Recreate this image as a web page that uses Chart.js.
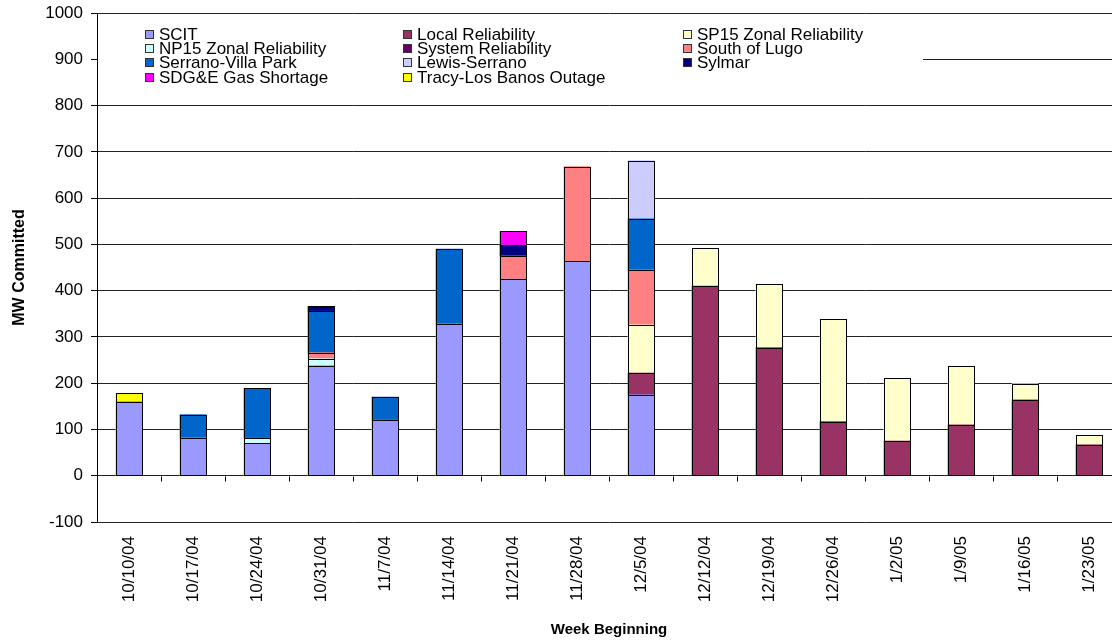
<!DOCTYPE html>
<html>
<head>
<meta charset="utf-8">
<script src="https://cdn.jsdelivr.net/npm/chart.js@4.4.1/dist/chart.umd.min.js"></script>
<style>
  html, body { margin: 0; padding: 0; background: #fff; overflow: hidden; }
  #wrap { width: 1127px; height: 641px; position: relative; }
</style>
</head>
<body>
<div id="wrap"><canvas id="chart"></canvas></div>
<script>
// Week-beginning categories
const weeks = ['10/10/04','10/17/04','10/24/04','10/31/04','11/7/04','11/14/04','11/21/04','11/28/04',
               '12/5/04','12/12/04','12/19/04','12/26/04','1/2/05','1/9/05','1/16/05','1/23/05'];

// MW committed per reason (null = nothing committed that week)
const scit        = [160, 82, 70, 238, 120, 328, 425, 463, 175, null, null, null, null, null, null, null];
const localRel    = [null, null, null, null, null, null, null, null, 47, 410, 277, 117, 75, 110, 164, 67];
const sp15Zonal   = [null, null, null, null, null, null, null, null, 104, 83, 138, 221, 136, 128, 35, 20];
const np15Zonal   = [null, null, 11, 15, null, null, null, null, null, null, null, null, null, null, null, null];
const systemRel   = [null, null, null, null, null, null, null, null, null, null, null, null, null, null, null, null];
const southLugo   = [null, null, null, 13, null, null, 50, 205, 119, null, null, null, null, null, null, null];
const serranoVP   = [null, 50, 108, 90, 50, 162, null, null, 110, null, null, null, null, null, null, null];
const lewisSerr   = [null, null, null, null, null, null, null, null, 126, null, null, null, null, null, null, null];
const sylmar      = [null, null, null, 10, null, null, 23, null, null, null, null, null, null, null, null, null];
const sdgeGas     = [null, null, null, null, null, null, 30, null, null, null, null, null, null, null, null, null];
const tracyLB     = [18, null, null, null, null, null, null, null, null, null, null, null, null, null, null, null];

// Y axis range
const yMin = -100, yMax = 1000, yStep = 100;

const seriesDefs = [
  ['SCIT', scit, '#9999FF'],
  ['Local Reliability', localRel, '#993366'],
  ['SP15 Zonal Reliability', sp15Zonal, '#FFFFCC'],
  ['NP15 Zonal Reliability', np15Zonal, '#CCFFFF'],
  ['System Reliability', systemRel, '#660066'],
  ['South of Lugo', southLugo, '#FF8080'],
  ['Serrano-Villa Park', serranoVP, '#0066CC'],
  ['Lewis-Serrano', lewisSerr, '#CCCCFF'],
  ['Sylmar', sylmar, '#000080'],
  ['SDG&E Gas Shortage', sdgeGas, '#FF00FF'],
  ['Tracy-Los Banos Outage', tracyLB, '#FFFF00']
];

const FONT = "'Liberation Sans', Arial, Helvetica, sans-serif";
Chart.defaults.font.family = FONT;
Chart.defaults.color = '#000';

// Crisp 1px black outline around every stacked segment, taken from the bar elements
const crispOutlines = {
  id: 'crispOutlines',
  afterDatasetsDraw(chart) {
    const ctx = chart.ctx;
    ctx.save();
    ctx.strokeStyle = '#000';
    ctx.lineWidth = 1;
    chart.data.datasets.forEach((ds, di) => {
      const meta = chart.getDatasetMeta(di);
      meta.data.forEach((bar, i) => {
        if (ds.data[i] == null) return;
        const p = bar.getProps(['x', 'y', 'base', 'width'], true);
        const l = Math.round(p.x - p.width / 2), r = Math.round(p.x + p.width / 2);
        const t = Math.round(Math.min(p.y, p.base)), b = Math.round(Math.max(p.y, p.base));
        ctx.strokeRect(l + 0.5, t + 0.5, r - l, b - t);
      });
    });
    ctx.restore();
  }
};

// Tick marks on the zero line at the boundaries between weeks
const zeroLineTicks = {
  id: 'zeroLineTicks',
  afterDatasetsDraw(chart) {
    const x = chart.scales.x, y = chart.scales.y, ctx = chart.ctx;
    const y0 = Math.round(y.getPixelForValue(0)) + 0.5;
    ctx.save();
    ctx.strokeStyle = '#000';
    ctx.lineWidth = 1;
    ctx.beginPath();
    for (let i = 1; i < weeks.length; i++) {
      const px = Math.round((x.getPixelForValue(i - 1) + x.getPixelForValue(i)) / 2) + 0.5;
      ctx.moveTo(px, y0);
      ctx.lineTo(px, y0 + 5);
    }
    ctx.stroke();
    ctx.restore();
  }
};

// Three-column legend box inside the top of the plot
const gridLegend = {
  id: 'gridLegend',
  afterDraw(chart) {
    const ctx = chart.ctx, area = chart.chartArea;
    const colX = [145, 403, 683];
    const rowY = [34, 48.3, 62.6, 77];
    ctx.save();
    ctx.fillStyle = '#fff';
    ctx.fillRect(area.left + 1, 18, 923 - area.left - 1, 80);
    ctx.font = '17px ' + FONT;
    ctx.textBaseline = 'middle';
    ctx.textAlign = 'left';
    chart.data.datasets.forEach((ds, i) => {
      const cx = colX[i % 3], cy = rowY[Math.floor(i / 3)];
      const top = Math.round(cy - 4.5);
      ctx.fillStyle = ds.backgroundColor;
      ctx.fillRect(cx, top, 9, 9);
      ctx.strokeStyle = '#333';
      ctx.lineWidth = 1;
      ctx.strokeRect(cx + 0.5, top + 0.5, 8, 8);
      ctx.fillStyle = '#000';
      ctx.fillText(ds.label, cx + 14, cy + 1);
    });
    ctx.restore();
  }
};

new Chart(document.getElementById('chart'), {
  type: 'bar',
  data: {
    labels: weeks,
    datasets: seriesDefs.map(([label, data, color]) => ({
      label, data,
      backgroundColor: color,
      borderWidth: 0,
      barThickness: 26
    }))
  },
  options: {
    responsive: true,
    maintainAspectRatio: false,
    animation: false,
    devicePixelRatio: 1,
    layout: { padding: { top: 13, right: 6, left: 0, bottom: 0 } },
    plugins: {
      legend: { display: false },
      tooltip: { enabled: false }
    },
    scales: {
      x: {
        stacked: true,
        grid: { display: false, drawTicks: false },
        border: { display: false },
        ticks: {
          minRotation: 90, maxRotation: 90,
          autoSkip: false,
          padding: 14,
          font: { size: 17 },
          color: '#000'
        },
        title: {
          display: true,
          text: 'Week Beginning',
          font: { size: 15, weight: 'bold' },
          padding: { top: 0, bottom: 2 },
          color: '#000'
        },
        afterFit(scale) { scale.height = 119; }
      },
      y: {
        stacked: true,
        min: yMin, max: yMax,
        ticks: {
          stepSize: yStep,
          padding: 8,
          font: { size: 17 },
          color: '#000',
          callback: (v) => String(v)
        },
        grid: {
          color: '#222',
          lineWidth: 1,
          drawTicks: true,
          tickLength: 6,
          tickColor: '#000'
        },
        border: { display: true, color: '#000', width: 1 },
        title: {
          display: true,
          text: 'MW Committed',
          font: { size: 16, weight: 'bold' },
          padding: { top: 10, bottom: 0 },
          color: '#000'
        },
        afterFit(scale) {
          scale.width = 97;
          scale.paddingTop = 0;
          scale.paddingBottom = 0;
        }
      }
    }
  },
  plugins: [crispOutlines, zeroLineTicks, gridLegend]
});
</script>
</body>
</html>
